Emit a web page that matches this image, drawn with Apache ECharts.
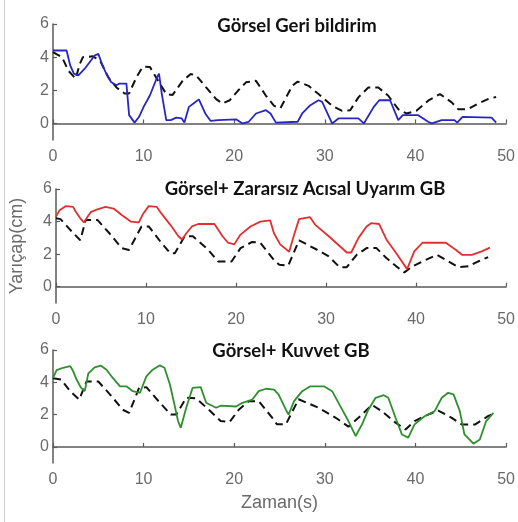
<!DOCTYPE html>
<html><head><meta charset="utf-8">
<script src="https://cdn.jsdelivr.net/npm/echarts@6/dist/echarts.min.js"></script>
<style>html,body{margin:0;padding:0;background:#fff}#c{width:518px;height:522px}</style>
</head><body><div id="c"></div>
<script>
const titles = ['Görsel Geri bildirim', 'Görsel+ Zararsız Acısal Uyarım GB', 'Görsel+ Kuvvet GB'];
const xTicks = [0, 10, 20, 30, 40, 50];
const yTicks = [0, 2, 4, 6];
const yLabel = 'Yarıçap(cm)';
const xLabel = 'Zaman(s)';

const blue = [[0,4.4],[1.5,4.4],[1.9,3.5],[2.3,3.0],[2.8,2.9],[3.5,3.3],[4.6,4.1],[5.0,4.2],[5.4,3.6],[5.8,3.1],[6.4,2.5],[7.0,2.3],[7.3,2.4],[8.1,2.4],[8.4,0.5],[9.0,0.05],[9.5,0.4],[10.0,1.0],[10.7,1.7],[11.5,2.8],[11.7,3.0],[12.0,1.8],[12.5,0.2],[13.0,0.2],[13.6,0.35],[14.2,0.3],[14.5,0.05],[15.0,1.0],[15.5,1.2],[16.1,1.45],[16.8,0.6],[17.4,0.15],[18.2,0.2],[20.2,0.25],[20.9,0.0],[21.6,0.1],[22.4,0.6],[23.5,0.8],[24.0,0.6],[24.6,0.05],[27.0,0.1],[27.5,0.6],[28.4,1.1],[29.3,1.4],[29.7,1.3],[30.8,0.0],[31.5,0.3],[33.7,0.3],[34.3,0.0],[35.4,1.0],[36.0,1.4],[37.2,1.4],[38.1,0.2],[38.6,0.5],[40.3,0.5],[41.4,0.1],[41.8,0.0],[42.9,0.2],[44.3,0.2],[44.6,0.05],[45.2,0.4],[48.4,0.35],[48.9,0.05]];
const ref1 = [[0,4.3],[1.0,4.0],[1.7,3.18],[2.5,2.7],[2.95,3.58],[3.3,4.0],[4.4,4.05],[5.2,3.78],[6.1,2.78],[7.0,2.17],[7.9,1.81],[8.4,1.81],[9.2,2.78],[9.9,3.42],[10.7,3.4],[11.6,2.57],[12.5,1.77],[13.2,1.72],[14.3,2.57],[15.2,2.98],[15.8,2.9],[16.9,2.17],[18.0,1.47],[18.7,1.2],[19.5,1.4],[20.4,1.97],[21.3,2.48],[22.4,2.57],[23.5,1.67],[24.4,1.06],[25.1,0.92],[26.4,2.27],[27.0,2.52],[28.2,2.27],[29.3,1.77],[30.8,1.06],[31.9,0.76],[32.8,0.8],[33.7,1.57],[34.8,2.17],[35.9,2.17],[37.0,1.67],[38.1,0.86],[39.0,0.6],[40.1,0.76],[41.4,1.37],[42.7,1.77],[44.0,1.27],[44.7,0.86],[45.8,0.86],[46.9,1.2],[48.0,1.47],[48.9,1.6]];
const red = [[0,4.3],[0.4,4.7],[1.1,4.95],[1.9,4.9],[2.2,4.6],[2.7,4.2],[3.1,3.95],[3.5,4.3],[3.9,4.6],[4.6,4.75],[5.5,4.9],[6.4,4.8],[7.3,4.4],[8.3,4.0],[9.2,3.95],[9.7,4.5],[10.3,4.95],[11.2,4.9],[11.7,4.5],[12.7,3.8],[13.6,3.1],[14.0,2.9],[14.5,3.3],[15.1,3.7],[15.8,3.85],[17.6,3.85],[18.5,3.1],[19.1,2.7],[19.8,2.6],[20.5,3.2],[21.6,3.7],[22.7,4.0],[23.8,4.07],[24.2,3.3],[24.9,2.6],[25.9,2.15],[26.4,3.1],[27.0,4.15],[28.2,4.28],[28.8,3.8],[30.3,3.1],[31.5,2.5],[32.3,2.1],[32.8,2.1],[33.6,3.0],[34.5,3.7],[35.0,3.9],[35.9,3.85],[36.7,2.9],[37.8,2.05],[39.0,1.08],[39.8,2.17],[40.7,2.7],[43.3,2.7],[44.4,2.27],[45.1,1.96],[46.2,1.96],[47.3,2.17],[48.2,2.4]];
const ref2 = [[0,4.2],[0.5,4.15],[1.9,3.3],[2.7,2.85],[3.3,4.1],[4.6,4.1],[5.9,3.3],[7.3,2.37],[8.1,2.25],[9.5,3.7],[10.3,3.7],[11.7,2.7],[12.7,2.05],[13.2,2.05],[14.3,3.1],[15.2,3.1],[16.9,2.27],[18.0,1.55],[19.5,1.55],[20.5,2.37],[21.8,2.75],[22.7,2.7],[24.2,1.65],[24.8,1.35],[25.8,1.3],[27.0,2.85],[29.0,2.27],[30.3,1.86],[31.5,1.2],[32.3,1.2],[33.4,1.96],[34.5,2.37],[35.6,2.37],[36.7,1.76],[37.8,1.25],[38.7,0.88],[39.6,1.25],[40.7,1.55],[42.3,1.96],[43.6,1.55],[44.7,1.2],[45.8,1.25],[46.9,1.55],[48.0,1.82]];
const green = [[0,4.27],[0.4,4.75],[1.1,4.9],[1.9,5.0],[2.2,4.72],[2.6,4.17],[3.1,3.65],[3.5,3.45],[3.9,4.55],[4.6,4.93],[5.3,5.03],[5.9,4.78],[6.6,4.27],[7.4,3.75],[8.1,3.75],[8.8,3.45],[9.6,3.35],[10.3,4.37],[11.0,4.78],[11.8,5.05],[12.3,4.9],[12.9,3.86],[13.4,2.62],[13.8,1.6],[14.1,1.18],[14.7,2.42],[15.4,3.65],[16.3,3.7],[16.9,2.73],[18.0,2.42],[18.5,2.55],[20.2,2.5],[20.9,2.73],[22.0,2.93],[22.7,3.45],[23.5,3.6],[24.4,3.55],[24.9,3.24],[25.7,2.3],[26.0,2.0],[26.6,2.83],[27.5,3.45],[28.4,3.75],[29.9,3.75],[30.8,3.45],[31.7,2.52],[32.6,1.6],[33.4,0.67],[34.1,1.39],[34.8,2.3],[35.6,3.04],[36.5,3.2],[37.0,3.04],[37.8,1.8],[38.5,0.77],[39.2,0.57],[39.9,1.39],[41.0,1.9],[42.1,2.2],[42.9,3.04],[43.6,3.35],[44.2,3.25],[44.9,2.2],[45.4,0.77],[46.4,0.2],[47.1,0.46],[47.8,1.6],[48.6,2.1]];
const ref3 = [[0,4.25],[0.9,4.17],[1.9,3.45],[2.9,2.93],[3.7,4.05],[5.0,4.05],[6.3,3.24],[7.7,2.3],[8.4,2.1],[9.5,3.65],[10.3,3.7],[11.8,2.73],[13.0,2.0],[13.6,2.0],[14.7,3.04],[15.8,3.0],[17.2,2.3],[18.5,1.6],[19.5,1.55],[20.5,2.3],[21.6,2.83],[22.7,2.83],[24.2,1.8],[24.7,1.4],[25.7,1.4],[27.1,2.95],[29.3,2.42],[31.2,1.8],[32.6,1.25],[33.9,1.9],[35.2,2.6],[36.3,2.2],[37.8,1.5],[38.9,1.08],[39.9,1.6],[41.4,2.0],[42.5,2.25],[44.0,1.8],[45.1,1.39],[46.6,1.39],[48.0,1.9],[48.6,2.05]];

const solids = [blue, red, green];
const refs = [ref1, ref2, ref3];
const colors = ['#2626c4', '#e0302f', '#2f8f2f'];

const axisGray = '#5a5a5a';
const labelGray = '#6a6a6a';
const font = '"Liberation Sans", Arial, sans-serif';
const grids = [
  {left: 53, right: 10, top: 24, height: 116},
  {left: 53, right: 10, top: 189, height: 114},
  {left: 53, right: 10, top: 350, height: 113}
];
const titleTops = [12, 175, 337];
const titleLefts = [292, 300, 286];

const xAxes = grids.map((g, i) => ({
  gridIndex: i, type: 'value', min: 0, max: 50, interval: 10,
  axisLine: {show: true, lineStyle: {color: axisGray, width: 1.5}},
  axisTick: {show: true, inside: true, length: 4, lineStyle: {color: axisGray, width: 1.2}},
  splitLine: {show: false},
  axisLabel: {color: labelGray, fontSize: 16, fontFamily: font, margin: 9,
    customValues: xTicks},
  name: i === 2 ? xLabel : '', nameLocation: 'middle', nameGap: 31,
  nameTextStyle: {color: labelGray, fontSize: 18, fontFamily: font}
}));
const yAxes = grids.map((g, i) => ({
  gridIndex: i, type: 'value', min: -1, max: 6,
  axisLine: {show: true, lineStyle: {color: axisGray, width: 1.5}},
  axisTick: {show: true, inside: true, length: 4, customValues: yTicks, lineStyle: {color: axisGray, width: 1.2}},
  splitLine: {show: false},
  axisLabel: {color: labelGray, fontSize: 16, fontFamily: font, margin: 4,
    customValues: yTicks},
  name: i === 1 ? yLabel : '', nameLocation: 'middle', nameGap: 30,
  nameTextStyle: {color: labelGray, fontSize: 18, fontFamily: font}
}));
const series = [];
for (let i = 0; i < 3; i++) {
  series.push({type: 'line', xAxisIndex: i, yAxisIndex: i, data: refs[i], showSymbol: false,
    lineStyle: {color: '#111', width: 2, type: [8, 5]}, z: 2});
  series.push({type: 'line', xAxisIndex: i, yAxisIndex: i, data: solids[i], showSymbol: false,
    lineStyle: {color: colors[i], width: 1.8}, z: 3});
}
const chart = echarts.init(document.getElementById('c'));
chart.setOption({
  animation: false,
  backgroundColor: '#fff',
  textStyle: {fontFamily: font},
  title: titles.map((t, i) => ({text: t, left: titleLefts[i], top: titleTops[i], textAlign: 'center',
    textStyle: {fontFamily: 'Lato', fontWeight: 'bold', fontSize: 18.5, color: '#111'}})),
  grid: grids,
  xAxis: xAxes,
  yAxis: yAxes,
  series: series,
  graphic: [{type: 'line', shape: {x1: 4.5, y1: 0, x2: 4.5, y2: 522}, style: {stroke: '#cfcfcf', lineWidth: 1}}]
});
</script></body></html>
